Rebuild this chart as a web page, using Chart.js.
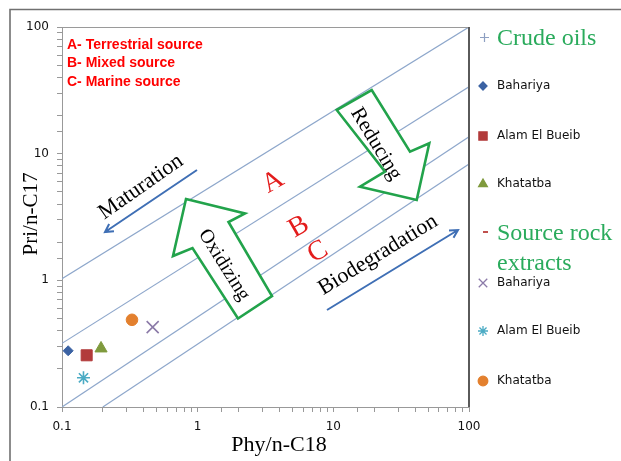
<!DOCTYPE html>
<html>
<head>
<meta charset="utf-8">
<script src="https://cdn.jsdelivr.net/npm/chart.js@4/dist/chart.umd.min.js"></script>
<style>
  html, body { margin: 0; padding: 0; background: #fff; }
  #wrap { width: 621px; height: 461px; }
</style>
</head>
<body>
<div id="wrap"><canvas id="chart" width="621" height="461"></canvas></div>
<script>
// ---- data ----
const basins = ['Bahariya', 'Alam El Bueib', 'Khatatba'];
const crudePhy = [0.111, 0.152, 0.194];
const crudePri = [0.278, 0.256, 0.29];
const extractPhy = [0.466, 0.144, 0.328];
const extractPri = [0.427, 0.170, 0.488];

// boundary lines between source fields (start, end)
const boundPhy = [[0.1, 100], [0.1, 100], [0.1, 100], [0.2, 100]];
const boundPri = [[1.03, 100], [0.318, 33.8], [0.1, 13.6], [0.1, 8.3]];

const decadeTicks = [0.1, 1, 10, 100];

// ---- styles ----
const crudeStyles = [
  { pointStyle: 'rectRot', color: '#3b62a3', radius: 5, legendRadius: 4 },
  { pointStyle: 'rect', color: '#b23b3b', radius: 7.8, legendRadius: 5.8 },
  { pointStyle: 'triangle', color: '#7f9a3d', radius: 7, legendRadius: 5 }
];
const extractStyles = [
  { pointStyle: 'crossRot', color: '#8b7aa8', radius: 8.5, legendRadius: 6 },
  { pointStyle: 'star', color: '#4babc4', radius: 6.5, legendRadius: 5 },
  { pointStyle: 'circle', color: '#e3802e', radius: 5.8, legendRadius: 4.8 }
];
const GREEN = '#22a34b';
const TITLE_GREEN = '#2aab5c';
const BLUE_ARROW = '#3f6fb5';
const SERIF = '"Liberation Serif", "DejaVu Serif", serif';
const SANS = '"DejaVu Sans", sans-serif';

function isDecade(v) {
  const l = Math.log10(v);
  return Math.abs(l - Math.round(l)) < 1e-6;
}

const datasets = [];
boundPhy.forEach((xs, i) => {
  datasets.push({
    type: 'line',
    data: xs.map((x, j) => ({ x: x, y: boundPri[i][j] })),
    borderColor: '#8ea7cb', borderWidth: 1.2, pointRadius: 0, fill: false, order: 10
  });
});
basins.forEach((name, i) => {
  const s = crudeStyles[i];
  datasets.push({
    label: name + ' (crude oil)',
    data: [{ x: crudePhy[i], y: crudePri[i] }],
    pointStyle: s.pointStyle, pointRadius: s.radius,
    backgroundColor: s.color, borderColor: s.color, borderWidth: 1, order: 1
  });
});
basins.forEach((name, i) => {
  const s = extractStyles[i];
  const line = s.pointStyle === 'crossRot' || s.pointStyle === 'star';
  datasets.push({
    label: name + ' (source rock extract)',
    data: [{ x: extractPhy[i], y: extractPri[i] }],
    pointStyle: s.pointStyle, pointRadius: s.radius,
    backgroundColor: s.color, borderColor: s.color, borderWidth: line ? 1.6 : 1, order: 1
  });
});

// ---- helpers for the drawn decorations ----
function rotText(ctx, text, x, y, deg, font, color) {
  ctx.save();
  ctx.translate(x, y);
  ctx.rotate(deg * Math.PI / 180);
  ctx.font = font;
  ctx.fillStyle = color;
  ctx.textAlign = 'center';
  ctx.textBaseline = 'middle';
  ctx.fillText(text, 0, 0);
  ctx.restore();
}

function lineArrow(ctx, x1, y1, x2, y2) {
  const a = Math.atan2(y2 - y1, x2 - x1);
  const h = 9;
  ctx.save();
  ctx.strokeStyle = BLUE_ARROW;
  ctx.lineWidth = 2;
  ctx.beginPath();
  ctx.moveTo(x1, y1);
  ctx.lineTo(x2, y2);
  ctx.moveTo(x2 - h * Math.cos(a - 0.5), y2 - h * Math.sin(a - 0.5));
  ctx.lineTo(x2, y2);
  ctx.lineTo(x2 - h * Math.cos(a + 0.5), y2 - h * Math.sin(a + 0.5));
  ctx.stroke();
  ctx.restore();
}

function blockArrow(ctx, pts) {
  ctx.save();
  ctx.beginPath();
  pts.forEach((p, i) => i ? ctx.lineTo(p[0], p[1]) : ctx.moveTo(p[0], p[1]));
  ctx.closePath();
  ctx.fillStyle = '#fff';
  ctx.fill();
  ctx.strokeStyle = GREEN;
  ctx.lineWidth = 2.6;
  ctx.lineJoin = 'miter';
  ctx.stroke();
  ctx.restore();
}

function marker(ctx, s, x, y, r) {
  ctx.save();
  ctx.fillStyle = s.color;
  ctx.strokeStyle = s.color;
  ctx.lineWidth = 1.3;
  Chart.helpers.drawPoint(ctx, { pointStyle: s.pointStyle, radius: r, rotation: 0, borderWidth: 1.3 }, x, y);
  ctx.restore();
}

const decorPlugin = {
  id: 'decor',
  beforeDraw(chart) {
    const { ctx } = chart;
    ctx.save();
    ctx.strokeStyle = '#707070';
    ctx.lineWidth = 1.6;
    ctx.beginPath();
    ctx.moveTo(10, 461);
    ctx.lineTo(10, 9.5);
    ctx.lineTo(621, 9.5);
    ctx.stroke();
    ctx.restore();
  },
  afterDatasetsDraw(chart) {
    const { ctx, chartArea: ca } = chart;

    // plot frame (top light, right dark)
    ctx.save();
    ctx.strokeStyle = '#9a9a9a';
    ctx.lineWidth = 1;
    ctx.beginPath();
    ctx.moveTo(ca.left, ca.top + 0.5);
    ctx.lineTo(ca.right, ca.top + 0.5);
    ctx.stroke();
    ctx.strokeStyle = '#5a5a5a';
    ctx.lineWidth = 2;
    ctx.beginPath();
    ctx.moveTo(ca.right, ca.top);
    ctx.lineTo(ca.right, ca.bottom);
    ctx.stroke();
    ctx.restore();

    // source legend in the corner
    ctx.save();
    ctx.font = 'bold 14px "Liberation Sans", Arial, sans-serif';
    ctx.fillStyle = '#ff0000';
    ctx.textBaseline = 'middle';
    ['A- Terrestrial source', 'B- Mixed source', 'C- Marine source'].forEach((t, i) => {
      ctx.fillText(t, 67, 45 + i * 18.5);
    });
    ctx.restore();

    // block arrows
    blockArrow(ctx, [[186, 199], [245, 213.5], [228.5, 222], [272, 296], [238, 318.5], [192.5, 248], [173, 256]]);
    blockArrow(ctx, [[336.7, 110], [371.7, 90], [410, 151.7], [429.3, 143.3], [416.7, 200], [360, 186.7], [385, 171.7]]);
    rotText(ctx, 'Oxidizing', 224, 265, 58, '20px ' + SERIF, '#000');
    rotText(ctx, 'Reducing', 376, 144, 59, '21px ' + SERIF, '#000');

    // A / B / C
    const red = '#e31c1c';
    rotText(ctx, 'A', 273, 182, -30, '28px ' + SERIF, red);
    rotText(ctx, 'B', 299, 227, -30, '28px ' + SERIF, red);
    rotText(ctx, 'C', 318, 252, -30, '28px ' + SERIF, red);

    // trends
    rotText(ctx, 'Maturation', 141, 187, -35, '22px ' + SERIF, '#000');
    lineArrow(ctx, 197, 170, 105, 232);
    rotText(ctx, 'Biodegradation', 378, 255, -31.5, '22px ' + SERIF, '#000');
    lineArrow(ctx, 327, 310, 458, 230);

    // axis titles
    ctx.save();
    ctx.font = '22px ' + SERIF;
    ctx.fillStyle = '#000';
    ctx.textAlign = 'center';
    ctx.textBaseline = 'middle';
    ctx.fillText('Phy/n-C18', 279, 445);
    ctx.restore();
    rotText(ctx, 'Pri/n-C17', 31, 214, -90, '21px ' + SERIF, '#000');

    // legend
    ctx.save();
    ctx.strokeStyle = '#8ea0c2';
    ctx.lineWidth = 1.2;
    ctx.beginPath();
    ctx.moveTo(480, 37.5); ctx.lineTo(489, 37.5);
    ctx.moveTo(484.5, 33); ctx.lineTo(484.5, 42);
    ctx.stroke();
    ctx.strokeStyle = '#c0504d';
    ctx.lineWidth = 2;
    ctx.beginPath();
    ctx.moveTo(483, 232); ctx.lineTo(488, 232);
    ctx.stroke();

    ctx.font = '24px ' + SERIF;
    ctx.fillStyle = TITLE_GREEN;
    ctx.textBaseline = 'alphabetic';
    ctx.fillText('Crude oils', 497, 45);
    ctx.fillText('Source rock', 497, 240);
    ctx.fillText('extracts', 497, 270);

    ctx.font = '12px ' + SANS;
    ctx.fillStyle = '#111';
    ctx.textBaseline = 'middle';
    const crudeY = [86, 136, 184];
    const extractY = [283, 331, 381];
    basins.forEach((name, i) => {
      marker(ctx, crudeStyles[i], 483, crudeY[i], crudeStyles[i].legendRadius);
      ctx.fillText(name, 497, crudeY[i]);
      marker(ctx, extractStyles[i], 483, extractY[i], extractStyles[i].legendRadius);
      ctx.fillText(name, 497, extractY[i]);
    });
    ctx.restore();
  }
};

function axis(pos, fit) {
  return {
    type: 'logarithmic',
    position: pos,
    min: 0.1,
    max: 100,
    afterFit: fit,
    grid: { drawOnChartArea: false, drawTicks: true, tickLength: 5, color: '#999' },
    border: { color: '#999', width: 1 },
    ticks: {
      autoSkip: false,
      maxRotation: 0,
      padding: 8,
      color: '#111',
      font: { family: SANS, size: 12 },
      callback: v => (isDecade(v) && decadeTicks.includes(Number(v.toPrecision(6)))) ? String(Number(v.toPrecision(6))) : ''
    }
  };
}

new Chart(document.getElementById('chart'), {
  type: 'scatter',
  data: { datasets: datasets },
  options: {
    responsive: false,
    animation: false,
    devicePixelRatio: 1,
    layout: { padding: { left: 0, top: 27, right: 152, bottom: 0 } },
    plugins: { legend: { display: false }, tooltip: { enabled: false } },
    scales: {
      x: axis('bottom', s => { s.height = 54; }),
      y: axis('left', s => { s.width = 62; })
    }
  },
  plugins: [decorPlugin]
});
</script>
</body>
</html>
